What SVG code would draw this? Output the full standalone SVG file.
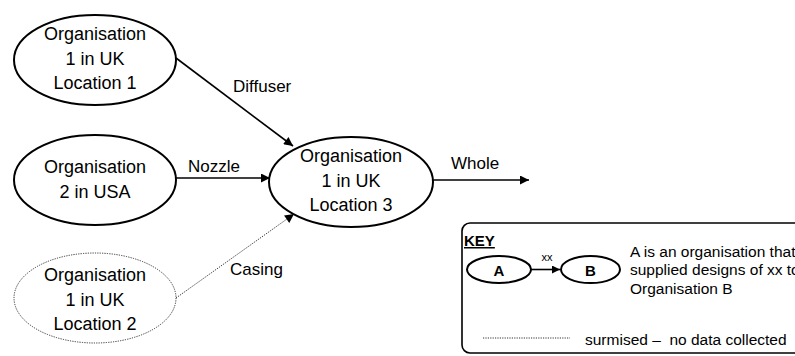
<svg xmlns="http://www.w3.org/2000/svg" width="795" height="356" viewBox="0 0 795 356">
<style>
text{font-family:"Liberation Sans",Arial,sans-serif;fill:#000}
.n{fill:#fff;stroke:#000;stroke-width:2}
.d{fill:#fff;stroke:#333;stroke-width:1;stroke-dasharray:1.2 1.2}
.t{font-size:18px;text-anchor:middle}
.l{font-size:17px}
.c{stroke:#000;stroke-width:1.6;fill:none}
.cd{stroke:#333;stroke-width:1;fill:none;stroke-dasharray:1.2 1.2}
.k{font-size:15.5px}
</style>
<defs>
<marker id="ah" viewBox="0 0 10 10" refX="10" refY="5" markerWidth="8" markerHeight="8" markerUnits="userSpaceOnUse" orient="auto"><path d="M0,0L10,5L0,10z" fill="#000"/></marker>
<marker id="ahm" viewBox="0 0 10 10" refX="10" refY="5" markerWidth="10" markerHeight="9" markerUnits="userSpaceOnUse" orient="auto"><path d="M0,0L10,5L0,10z" fill="#000"/></marker>
</defs>
<g id="connectors">
<line class="c" x1="176" y1="58" x2="293" y2="146" marker-end="url(#ahm)"/>
<line class="c" x1="176" y1="178" x2="270" y2="178" marker-end="url(#ahm)"/>
<line class="cd" x1="176" y1="298" x2="294" y2="214" marker-end="url(#ahm)"/>
<line class="c" x1="433" y1="180" x2="529" y2="180" marker-end="url(#ahm)"/>
<text class="l" x="233" y="92">Diffuser</text>
<text class="l" x="188" y="172">Nozzle</text>
<text class="l" x="230" y="275">Casing</text>
<text class="l" x="451" y="169">Whole</text>
</g>
<g id="org1-loc1">
<ellipse class="n" cx="95" cy="60" rx="81" ry="45"/>
<text class="t" x="95" y="40">Organisation</text>
<text class="t" x="95" y="65">1 in UK</text>
<text class="t" x="95" y="89">Location 1</text>
</g>
<g id="org2-usa">
<ellipse class="n" cx="95" cy="180" rx="81" ry="45"/>
<text class="t" x="95" y="173">Organisation</text>
<text class="t" x="95" y="198">2 in USA</text>
</g>
<g id="org1-loc2">
<ellipse class="d" cx="95" cy="298" rx="81" ry="45"/>
<text class="t" x="95" y="281">Organisation</text>
<text class="t" x="95" y="306">1 in UK</text>
<text class="t" x="95" y="330">Location 2</text>
</g>
<g id="org1-loc3">
<ellipse class="n" cx="351" cy="182" rx="82" ry="45"/>
<text class="t" x="351" y="162">Organisation</text>
<text class="t" x="351" y="187">1 in UK</text>
<text class="t" x="351" y="211">Location 3</text>
</g>
<g id="key">
<rect x="462" y="223" width="400" height="130" rx="8" fill="#fff" stroke="#000" stroke-width="1.6"/>
<text x="464" y="246" font-size="15" font-weight="bold" text-decoration="underline">KEY</text>
<ellipse class="n" cx="499" cy="269.5" rx="32" ry="13.5" stroke-width="1.6"/>
<text x="499" y="276" font-size="15" font-weight="bold" text-anchor="middle">A</text>
<line class="c" x1="531" y1="269.5" x2="560" y2="269.5" stroke-width="1.3" marker-end="url(#ah)"/>
<text x="547" y="261" font-size="11" text-anchor="middle">xx</text>
<ellipse class="n" cx="590.5" cy="269.5" rx="29.5" ry="13.5" stroke-width="1.6"/>
<text x="590.5" y="276" font-size="15" font-weight="bold" text-anchor="middle">B</text>
<text class="k" x="630" y="257">A is an organisation that</text>
<text class="k" x="630" y="275">supplied designs of xx to</text>
<text class="k" x="630" y="294">Organisation B</text>
<line class="cd" x1="483" y1="338" x2="570" y2="338"/>
<text class="k" x="585" y="345" xml:space="preserve">surmised –  no data collected</text>
</g>
</svg>
